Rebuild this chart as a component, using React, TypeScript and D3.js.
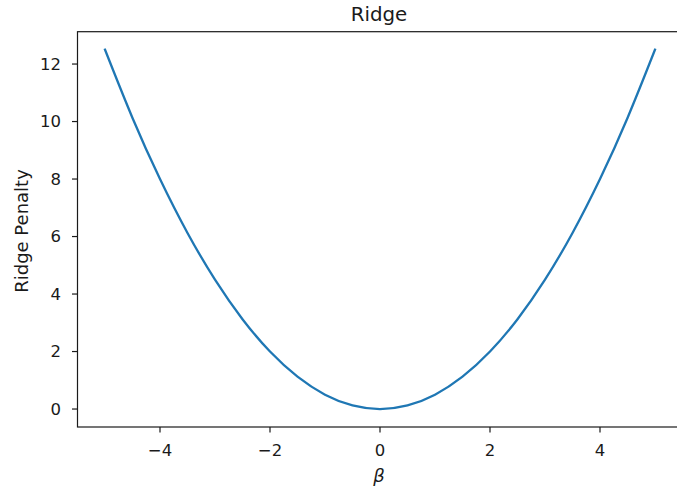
import React from "react";
import * as d3 from "d3";

// Ridge penalty curve samples
const betaValues = [-5, -4.5, -4, -3.5, -3, -2.5, -2, -1.5, -1, -0.5, 0, 0.5, 1, 1.5, 2, 2.5, 3, 3.5, 4, 4.5, 5];
const penaltyValues = [12.5, 10.125, 8, 6.125, 4.5, 3.125, 2, 1.125, 0.5, 0.125, 0, 0.125, 0.5, 1.125, 2, 3.125, 4.5, 6.125, 8, 10.125, 12.5];
const xTicks = [-4, -2, 0, 2, 4];
const yTicks = [0, 2, 4, 6, 8, 10, 12];

const W = 677;
const H = 493;
const margin = { left: 77.5, top: 31.7, right: 682.5, bottom: 427 };
const font = "'DejaVu Sans', sans-serif";
const ink = "#1a1a1a";
const tickLen = 5.5;

export default function App() {
  const x = d3.scaleLinear().domain([-5.5, 5.5]).range([margin.left, margin.right]);
  const y = d3.scaleLinear().domain([-0.625, 13.125]).range([margin.bottom, margin.top]);
  const points = betaValues.map((b, i) => [b, penaltyValues[i]] as [number, number]);
  const line = d3
    .line<[number, number]>()
    .x((d) => x(d[0]))
    .y((d) => y(d[1]))
    .curve(d3.curveNatural);

  return (
    <svg
      width={W}
      height={H}
      style={{ position: "absolute", left: 0, top: 0, background: "#fff" }}
      fontFamily={font}
    >
      <rect x={0} y={0} width={W} height={H} fill="#fff" />
      <path d={line(points) ?? ""} fill="none" stroke="#1f77b4" strokeWidth={2.3} strokeLinecap="square" />

      {/* spines */}
      <rect
        x={margin.left}
        y={margin.top}
        width={margin.right - margin.left}
        height={margin.bottom - margin.top}
        fill="none"
        stroke={ink}
        strokeWidth={1.2}
      />

      {/* x axis ticks */}
      {xTicks.map((t) => (
        <g key={`x${t}`}>
          <line x1={x(t)} x2={x(t)} y1={margin.bottom} y2={margin.bottom + tickLen} stroke={ink} strokeWidth={1.2} />
          <text x={x(t)} y={456} textAnchor="middle" fontSize={16.5} fill={ink}>
            {t < 0 ? `\u2212${Math.abs(t)}` : `${t}`}
          </text>
        </g>
      ))}

      {/* y axis ticks */}
      {yTicks.map((t) => (
        <g key={`y${t}`}>
          <line x1={margin.left - tickLen} x2={margin.left} y1={y(t)} y2={y(t)} stroke={ink} strokeWidth={1.2} />
          <text x={61} y={y(t)} dy="0.36em" textAnchor="end" fontSize={16.5} fill={ink}>
            {t}
          </text>
        </g>
      ))}

      <text x={379} y={21} textAnchor="middle" fontSize={19.8} fill={ink}>
        Ridge
      </text>
      <text x={379} y={482} textAnchor="middle" fontSize={18} fontStyle="italic" fill={ink}>
        β
      </text>
      <text
        transform={`translate(28, 231) rotate(-90)`}
        textAnchor="middle"
        fontSize={18}
        fill={ink}
      >
        Ridge Penalty
      </text>
    </svg>
  );
}
